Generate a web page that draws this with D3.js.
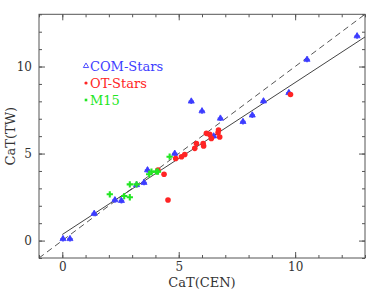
<!DOCTYPE html>
<html>
<head>
<meta charset="utf-8">
<script src="https://cdn.jsdelivr.net/npm/d3@7"></script>
<style>
  body { margin: 0; background: #fff; }
  text { font-family: "DejaVu Serif", serif; }
</style>
</head>
<body>
<div id="chart"></div>
<script>
// COM-Stars
const comX = [0.03, 0.33, 1.37, 2.26, 2.54, 3.19, 3.51, 3.66, 4.83, 5.54, 6.0, 6.5, 6.79, 7.76, 8.16, 8.64, 9.73, 10.51, 12.66];
const comY = [0.1, 0.1, 1.55, 2.33, 2.29, 3.2, 3.33, 4.05, 5.0, 8.0, 7.44, 6.0, 7.02, 6.83, 7.2, 8.01, 8.49, 10.4, 11.75];
// OT-Stars
const otX = [4.11, 4.37, 4.54, 4.87, 5.12, 5.26, 5.69, 5.76, 6.05, 6.07, 6.19, 6.33, 6.4, 6.69, 6.71, 6.76, 9.8];
const otY = [4.05, 3.81, 2.33, 4.72, 4.82, 4.95, 5.3, 5.58, 5.58, 5.43, 6.16, 6.1, 5.87, 6.19, 6.35, 5.95, 8.39];
// M15
const m15X = [2.04, 2.66, 2.9, 2.9, 3.19, 3.73, 3.83, 4.04, 4.11, 4.61];
const m15Y = [2.66, 2.56, 2.49, 3.23, 3.23, 3.81, 3.96, 3.96, 3.96, 4.82];
// fit line y = a + b x, drawn from x = 0
const fitA = 0.35, fitB = 0.873;
const majorTicks = [0, 5, 10];
const minorTicks = d3.range(-1, 14);
const legendLabels = ["COM-Stars", "OT-Stars", "M15"];

const W = 389, H = 291;
const x = d3.scaleLinear().domain([-1, 13]).range([39, 365]);
const y = d3.scaleLinear().domain([-1, 13]).range([258, 14.3]);

const svg = d3.select("#chart").append("svg")
  .attr("width", W).attr("height", H);

const ink = "#555";

// frame
svg.append("rect")
  .attr("x", x(-1)).attr("y", y(13))
  .attr("width", x(13) - x(-1)).attr("height", y(-1) - y(13))
  .attr("fill", "none").attr("stroke", ink).attr("stroke-width", 1);

function drawAxis(make, scale, tx, ty, labels, pad) {
  const gMin = svg.append("g").attr("transform", `translate(${tx},${ty})`)
    .call(make(scale).tickValues(minorTicks).tickSize(-3).tickFormat(""));
  gMin.select(".domain").remove();
  const gMaj = svg.append("g").attr("transform", `translate(${tx},${ty})`)
    .call(make(scale).tickValues(majorTicks).tickSize(-6).tickPadding(pad)
      .tickFormat(labels ? d3.format("d") : ""));
  gMaj.select(".domain").remove();
  [gMin, gMaj].forEach(g => g.selectAll("line").attr("stroke", ink));
  gMaj.selectAll("text").attr("fill", "#333").style("font-size", "12px")
    .style("font-family", "'DejaVu Serif', serif");
}

drawAxis(d3.axisBottom, x, 0, y(-1), true, 4);
drawAxis(d3.axisTop, x, 0, y(13), false, 3);
drawAxis(d3.axisLeft, y, x(-1), 0, true, 7);
drawAxis(d3.axisRight, y, x(13), 0, false, 3);

// clip for lines
svg.append("clipPath").attr("id", "clip").append("rect")
  .attr("x", x(-1)).attr("y", y(13))
  .attr("width", x(13) - x(-1)).attr("height", y(-1) - y(13));

// 1:1 dashed line
svg.append("line")
  .attr("clip-path", "url(#clip)")
  .attr("x1", x(-1)).attr("y1", y(-1)).attr("x2", x(13)).attr("y2", y(13))
  .attr("stroke", ink).attr("stroke-width", 1).attr("stroke-dasharray", "6,4");

// fit
svg.append("line")
  .attr("clip-path", "url(#clip)")
  .attr("x1", x(0)).attr("y1", y(fitA)).attr("x2", x(13)).attr("y2", y(fitA + fitB * 13))
  .attr("stroke", "#444").attr("stroke-width", 1);

const blue = "#3c3cff", red = "#ff2424", green = "#22e622";

const tri = d3.symbol().type(d3.symbolTriangle).size(16);
const cross = d3.symbol().type(d3.symbolCross).size(16);

svg.append("g").selectAll("g")
  .data(comX.map((v, i) => [v, comY[i]]))
  .join("g")
  .attr("transform", d => `translate(${x(d[0])},${y(d[1])})`)
  .each(function () {
    const g = d3.select(this);
    g.append("path").attr("d", tri).attr("fill", blue).attr("stroke", blue).attr("stroke-width", 0.8);
    g.append("path").attr("d", cross).attr("fill", blue).attr("opacity", 0.85);
  });

svg.append("g").selectAll("circle")
  .data(otX.map((v, i) => [v, otY[i]]))
  .join("circle")
  .attr("cx", d => x(d[0])).attr("cy", d => y(d[1]))
  .attr("r", 2.8).attr("fill", red);

svg.append("g").selectAll("path")
  .data(m15X.map((v, i) => [v, m15Y[i]]))
  .join("path")
  .attr("transform", d => `translate(${x(d[0])},${y(d[1])})`)
  .attr("d", d3.symbol().type(d3.symbolCross).size(22))
  .attr("fill", green);

// legend
const lg = svg.append("g");
const lgColors = [blue, red, green];
legendLabels.forEach((t, i) => {
  const yy = 66 + i * 17;
  if (i === 0) {
    lg.append("path").attr("transform", `translate(86,${yy})`)
      .attr("d", d3.symbol().type(d3.symbolTriangle).size(12))
      .attr("fill", "none").attr("stroke", blue).attr("stroke-width", 0.9);
  } else if (i === 1) {
    lg.append("circle").attr("cx", 86).attr("cy", yy).attr("r", 1.6).attr("fill", red);
  } else {
    lg.append("rect").attr("x", 84.7).attr("y", yy - 1.3).attr("width", 2.6).attr("height", 2.6).attr("fill", green);
  }
  lg.append("text").attr("x", 90).attr("y", yy + 5)
    .attr("fill", lgColors[i]).style("font-size", "13px").text(t);
});

// axis titles
svg.append("text")
  .attr("x", (x(-1) + x(13)) / 2).attr("y", 287)
  .attr("text-anchor", "middle").attr("fill", "#333").style("font-size", "13px")
  .text("CaT(CEN)");

svg.append("text")
  .attr("transform", `translate(15,${(y(-1) + y(13)) / 2}) rotate(-90)`)
  .attr("text-anchor", "middle").attr("fill", "#333").style("font-size", "13px")
  .text("CaT(TW)");
</script>
</body>
</html>
